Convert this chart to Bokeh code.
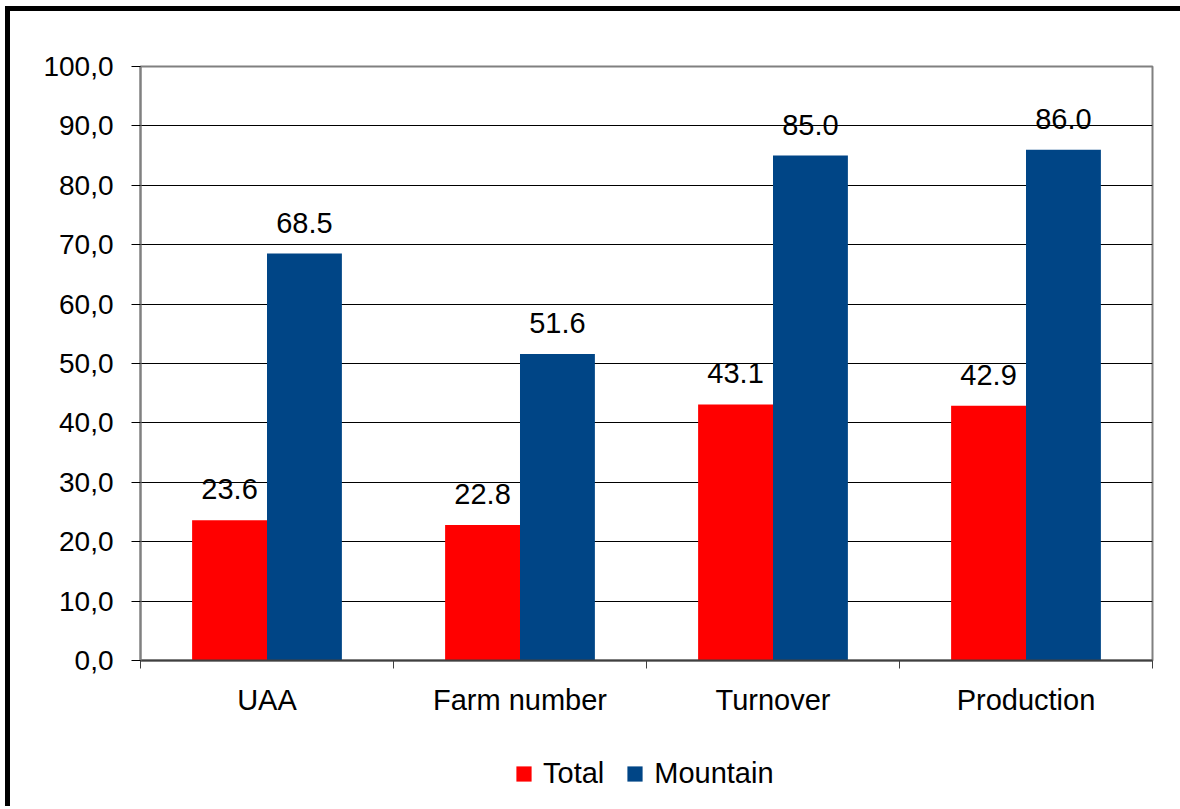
from bokeh.plotting import figure
from bokeh.layouts import column
from bokeh.models import ColumnDataSource, Range1d, FixedTicker, Legend, LegendItem
from bokeh.transform import dodge
from bokeh.core.properties import value
from bokeh.embed import file_html
from bokeh.resources import INLINE

categories = ["UAA", "Farm number", "Turnover", "Production"]
total = [23.6, 22.8, 43.1, 42.9]
mountain = [68.5, 51.6, 85.0, 86.0]
series_names = ["Total", "Mountain"]
series_colors = ["#FF0000", "#004586"]
y_ticks = [0, 10, 20, 30, 40, 50, 60, 70, 80, 90, 100]
y_tick_labels = ["0,0", "10,0", "20,0", "30,0", "40,0", "50,0", "60,0", "70,0", "80,0", "90,0", "100,0"]

FONT = "Liberation Sans"
FS = "29px"
FS_Y = "28px"
BAR_W = 0.296
W = 1170

centers = [i + 0.5 for i in range(len(categories))]
src = ColumnDataSource(dict(
    x=centers,
    total=total,
    mountain=mountain,
    total_lbl=["%.1f" % v for v in total],
    mountain_lbl=["%.1f" % v for v in mountain],
))

p = figure(width=W, height=710, x_range=Range1d(0, len(categories)), y_range=Range1d(0, 100),
           output_backend="svg", toolbar_location=None,
           min_border_left=130, min_border_right=W - 1142, min_border_top=55, min_border_bottom=61)
p.background_fill_color = "white"
p.border_fill_color = "white"
p.outline_line_color = "#808080"
p.outline_line_width = 2

p.vbar(x=dodge("x", -BAR_W / 2), top="total", width=BAR_W, bottom=0, source=src,
       fill_color=series_colors[0], line_color=None)
p.vbar(x=dodge("x", BAR_W / 2), top="mountain", width=BAR_W, bottom=0, source=src,
       fill_color=series_colors[1], line_color=None)

p.text(x=dodge("x", -BAR_W / 2), y="total", text="total_lbl", source=src,
       text_font=value(FONT), text_font_size=FS, text_align="center",
       text_baseline="alphabetic", y_offset=-31, text_color="black")
p.text(x=dodge("x", BAR_W / 2), y="mountain", text="mountain_lbl", source=src,
       text_font=value(FONT), text_font_size=FS, text_align="center",
       text_baseline="alphabetic", y_offset=-31, text_color="black")

# y axis
p.yaxis.ticker = FixedTicker(ticks=y_ticks)
p.yaxis.major_label_overrides = {t: l for t, l in zip(y_ticks, y_tick_labels)}
p.yaxis.major_label_text_font = FONT
p.yaxis.major_label_text_font_size = FS_Y
p.yaxis.major_label_text_color = "black"
p.yaxis.axis_line_color = "#808080"
p.yaxis.axis_line_width = 2
p.yaxis.major_tick_line_color = "black"
p.yaxis.major_tick_in = 0
p.yaxis.major_tick_out = 9
p.yaxis.minor_tick_line_color = None
p.yaxis.major_label_standoff = 18

# x axis
p.xaxis.ticker = FixedTicker(ticks=centers, minor_ticks=list(range(len(categories) + 1)))
p.xaxis.major_label_overrides = {c: n for c, n in zip(centers, categories)}
p.xaxis.major_label_text_font = FONT
p.xaxis.major_label_text_font_size = FS
p.xaxis.major_label_text_color = "black"
p.xaxis.axis_line_color = "#404040"
p.xaxis.axis_line_width = 2
p.xaxis.major_tick_in = 0
p.xaxis.major_tick_out = 0
p.xaxis.minor_tick_in = 0
p.xaxis.minor_tick_out = 8
p.xaxis.minor_tick_line_color = "#404040"
p.xaxis.major_label_standoff = 15

p.xgrid.visible = False
p.ygrid.ticker = FixedTicker(ticks=y_ticks[1:-1])
p.ygrid.grid_line_color = "black"
p.ygrid.grid_line_width = 1

# legend strip (bars here fall outside its y range, only the legend shows)
p2 = figure(width=W, height=85, x_range=Range1d(0, len(categories)), y_range=Range1d(1000, 1001),
            output_backend="svg", toolbar_location=None,
            x_axis_type=None, y_axis_type=None,
            min_border_left=0, min_border_right=0, min_border_top=0, min_border_bottom=0)
p2.grid.visible = False
p2.outline_line_color = None
p2.background_fill_color = "white"
p2.border_fill_color = "white"
lr = [p2.vbar(x=dodge("x", -BAR_W / 2), top="total", width=BAR_W, bottom=0, source=src,
              fill_color=series_colors[0], line_color=None),
      p2.vbar(x=dodge("x", BAR_W / 2), top="mountain", width=BAR_W, bottom=0, source=src,
              fill_color=series_colors[1], line_color=None)]

legend = Legend(items=[LegendItem(label=n, renderers=[r]) for n, r in zip(series_names, lr)],
                orientation="horizontal", location=(374, 16))
legend.label_text_font = FONT
legend.label_text_font_size = FS
legend.label_text_color = "black"
legend.glyph_width = 19
legend.glyph_height = 19
legend.label_height = 19
legend.label_standoff = 10
legend.spacing = 21
legend.padding = 0
legend.margin = 0
legend.border_line_color = None
legend.background_fill_alpha = 0
p2.add_layout(legend, "center")

layout = column(p, p2, spacing=0)
layout.styles = {"margin-left": "5px", "margin-top": "6px",
                 "border-left": "5px solid black", "border-top": "5px solid black"}

open("out.html", "w").write(file_html(layout, INLINE))
